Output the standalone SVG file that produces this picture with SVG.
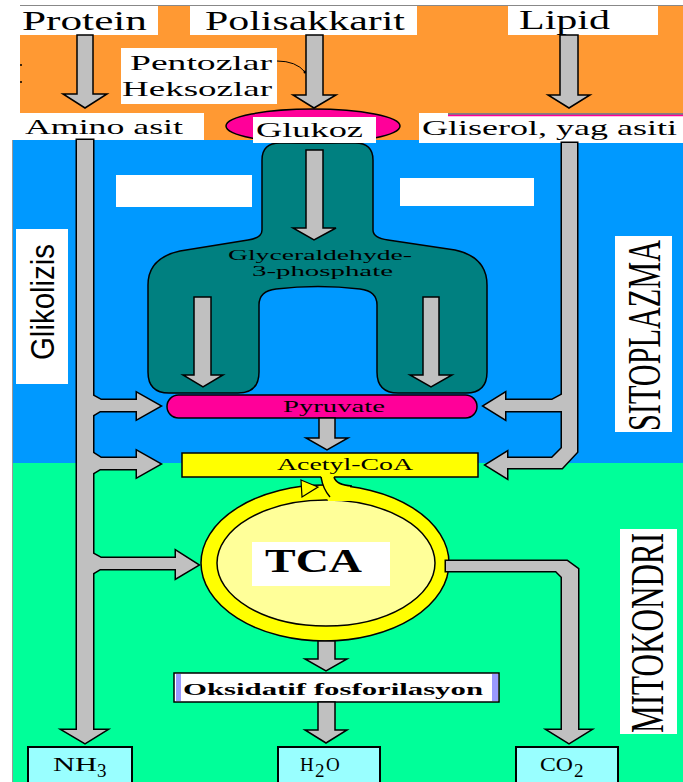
<svg xmlns="http://www.w3.org/2000/svg" xmlns:xlink="http://www.w3.org/1999/xlink" width="683" height="782" viewBox="0 0 683 782">
<style>
.lbl{font-family:"Liberation Serif","DejaVu Serif",serif;fill:#000}
.big{font-size:27px}
.mid{font-size:22px}
.sm{font-size:16px}
.wbox{fill:#fff}
.arr{fill:#C0C0C0;stroke:#000;stroke-width:1.5;stroke-linejoin:miter}
.netS{fill:#000;stroke:#000;stroke-width:3;stroke-linejoin:miter}
.netF{fill:#C0C0C0;stroke:none}
.out{fill:#99FFFF;stroke:#000;stroke-width:2}
.rot{font-family:"Liberation Serif",serif;fill:#000}
</style>
<defs>
<g id="leftNet">
<polygon points="77,140 93,140 93,730 106,730 85,743 63,730 77,730"/>
<polygon points="90,394 101,400 137,400 137,393 160,406 137,419 137,411 100,411 90,417"/>
<polygon points="90,451 101,458 137,458 137,451 160,464 137,477 137,469 100,469 90,475"/>
<polygon points="90,552 101,558 176,558 176,551 198,565 176,578 176,569 100,569 90,575"/>
</g>
<g id="rightNet">
<polygon points="562,143 577,143 577,452 562,468 507,468 507,478 486,465 507,452 507,458 552,458 562,448"/>
<polygon points="565,393 552,400 505,400 505,393 484,406 505,419 505,411 565,411"/>
</g>
<g id="co2Net">
<polygon points="446,561 567,561 578,569 578,730 590,730 569,743 548,730 562,730 562,577 556,571 446,571"/>
</g>
</defs>

<!-- backgrounds -->
<rect x="0" y="0" width="683" height="782" fill="#fff"/>
<rect x="20" y="6" width="663" height="134" fill="#FF9933"/>
<line x1="20" y1="5.5" x2="683" y2="5.5" stroke="#888" stroke-width="1"/>
<rect x="12" y="140" width="671" height="323" fill="#0099FF"/>
<rect x="12" y="463" width="671" height="319" fill="#00FF99"/>
<line x1="12.5" y1="140" x2="12.5" y2="782" stroke="#999" stroke-width="1"/>
<circle cx="21" cy="65" r="1" fill="#000"/>
<circle cx="21" cy="82" r="1" fill="#000"/>

<!-- top labels -->
<g id="protein">
<rect class="wbox" x="20" y="6" width="138" height="29"/>
<text class="lbl big" x="22" y="30" textLength="125" lengthAdjust="spacingAndGlyphs">Protein</text>
</g>
<g id="polisakkarit">
<rect class="wbox" x="190" y="6" width="227" height="29"/>
<text class="lbl big" x="205" y="30" textLength="200" lengthAdjust="spacingAndGlyphs">Polisakkarit</text>
</g>
<g id="lipid">
<rect class="wbox" x="508" y="6" width="150" height="29"/>
<text class="lbl big" x="519" y="29" textLength="91" lengthAdjust="spacingAndGlyphs">Lipid</text>
</g>
<g id="heksozlar">
<rect class="wbox" x="121" y="48" width="156" height="56"/>
<text class="lbl mid" x="130" y="70" textLength="142" lengthAdjust="spacingAndGlyphs">Pentozlar</text>
<text class="lbl mid" x="122" y="96" textLength="150" lengthAdjust="spacingAndGlyphs">Heksozlar</text>
<path d="M277 61 Q296 61 305 72" fill="none" stroke="#000" stroke-width="1"/>
<circle cx="305" cy="72" r="1.5" fill="#000"/>
</g>
<g id="aminoasit">
<rect class="wbox" x="20" y="113" width="184" height="27"/>
<text class="lbl mid" x="25" y="134" textLength="158" lengthAdjust="spacingAndGlyphs">Amino asit</text>
</g>
<g id="gliserol">
<rect class="wbox" x="419" y="113" width="264" height="30"/>
<line x1="448" y1="114" x2="683" y2="114" stroke="#000" stroke-width="1"/>
<line x1="448" y1="115.5" x2="683" y2="115.5" stroke="#FF0099" stroke-width="1.5"/>
<text class="lbl mid" x="422" y="135" textLength="255" lengthAdjust="spacingAndGlyphs">Gliserol, yag asiti</text>
</g>

<!-- empty white boxes -->
<rect class="wbox" x="116" y="175" width="136" height="32"/>
<rect class="wbox" x="400" y="178" width="134" height="28"/>

<!-- side labels -->
<g id="glikolizis">
<rect class="wbox" x="16" y="229" width="52" height="155"/>
<text font-family="Liberation Sans, sans-serif" font-size="34" fill="#000" transform="translate(54,360) rotate(-90)" textLength="116" lengthAdjust="spacingAndGlyphs">Glikolizis</text>
</g>
<g id="sitoplazma">
<rect class="wbox" x="615" y="236" width="57" height="196"/>
<text class="rot" font-size="46" transform="translate(660,431) rotate(-90)" textLength="191" lengthAdjust="spacingAndGlyphs">SITOPLAZMA</text>
</g>
<g id="mitokondri">
<rect class="wbox" x="620" y="529" width="57" height="205"/>
<text class="rot" font-size="46" transform="translate(663,733) rotate(-90)" textLength="200" lengthAdjust="spacingAndGlyphs">MITOKONDRI</text>
</g>

<!-- glycolysis teal -->
<g id="g3p">
<path d="M262 160 Q262 143 280 143 L355 143 Q373 143 373 160 L373 230 Q373 238 388 240 L455 250 Q487 257 487 285 L487 372 Q487 393 466 393 L398 393 Q377 393 377 372 L377 305 Q377 291 360 289 Q318 284 276 289 Q259 291 259 305 L259 372 Q259 393 238 393 L169 393 Q148 393 148 372 L148 285 Q148 258 180 251 L248 240 Q262 238 262 230 Z" fill="#008080" stroke="#000" stroke-width="1.5"/>
<text class="lbl" font-size="15" x="228" y="260" textLength="184" lengthAdjust="spacingAndGlyphs">Glyceraldehyde-</text>
<text class="lbl" font-size="15" x="252" y="276" textLength="141" lengthAdjust="spacingAndGlyphs">3-phosphate</text>
</g>

<g id="glukoz">
<ellipse cx="313" cy="126" rx="87" ry="17" fill="#FF0099" stroke="#000" stroke-width="1.5"/>
<rect class="wbox" x="253" y="117" width="123" height="26"/>
<text class="lbl mid" x="256" y="137" textLength="107" lengthAdjust="spacingAndGlyphs">Glukoz</text>
</g>

<g id="pyruvate">
<rect x="167" y="395" width="310" height="23" rx="11.5" fill="#FF0099" stroke="#000" stroke-width="1.5"/>
<text class="lbl sm" x="283" y="412" textLength="102" lengthAdjust="spacingAndGlyphs">Pyruvate</text>
</g>

<g id="acetylcoa">
<rect x="182" y="453" width="296" height="24" fill="#FFFF00" stroke="#000" stroke-width="1.5"/>
<text class="lbl sm" x="277" y="470" textLength="136" lengthAdjust="spacingAndGlyphs">Acetyl-CoA</text>
</g>

<g id="tca">
<ellipse cx="325" cy="563" rx="124" ry="78" fill="#FFFF00" stroke="#000" stroke-width="1.5"/>
<ellipse cx="326" cy="563" rx="109" ry="63" fill="#FFFF99" stroke="#000" stroke-width="1.5"/>
<path d="M321 476 L334 476 Q336 485 350 486 L350 501 L328 501 Q324 490 321 476 Z" fill="#FFFF00"/>
<path d="M321 477 Q323 489 330 497" fill="none" stroke="#000" stroke-width="1.5"/>
<path d="M334 477 Q336 485 352 486" fill="none" stroke="#000" stroke-width="1.5"/>
<polygon points="301,480 318,487 302,497" fill="#FFFF00" stroke="#000" stroke-width="1.2"/>
<rect class="wbox" x="252" y="542" width="138" height="44"/>
<text font-family="Liberation Serif, serif" font-weight="bold" font-size="34" x="265" y="572" textLength="97" lengthAdjust="spacingAndGlyphs" fill="#000">TCA</text>
</g>

<g id="oksidatif">
<rect x="174" y="673" width="325" height="29" fill="#fff" stroke="#000" stroke-width="1.5"/>
<rect x="176" y="674" width="5" height="27" fill="#9999FF"/>
<rect x="492" y="674" width="6" height="27" fill="#9999FF"/>
<text class="lbl sm" font-weight="bold" x="183" y="695" textLength="300" lengthAdjust="spacingAndGlyphs">Oksidatif fosforilasyon</text>
</g>

<g id="nh3">
<rect class="out" x="28" y="747" width="104" height="40"/>
<text class="lbl" font-size="19" x="53" y="771" textLength="44" lengthAdjust="spacingAndGlyphs">NH</text>
<text class="lbl" font-size="19" x="97" y="777">3</text>
</g>
<g id="h2o">
<rect class="out" x="278" y="747" width="102" height="40"/>
<text class="lbl" font-size="19" x="300" y="771">H</text>
<text class="lbl" font-size="19" x="315" y="777">2</text>
<text class="lbl" font-size="19" x="326" y="771">O</text>
</g>
<g id="co2">
<rect class="out" x="516" y="747" width="102" height="40"/>
<text class="lbl" font-size="19" x="540" y="771" textLength="33" lengthAdjust="spacingAndGlyphs">CO</text>
<text class="lbl" font-size="19" x="574" y="777">2</text>
</g>

<!-- connectors -->
<g id="connectors">
<polygon class="arr" points="77,35 93,35 93,94 107,94 85,108 63,94 77,94"/>
<polygon class="arr" points="306,35 323,35 323,95 336,95 314,108 293,95 306,95"/>
<polygon class="arr" points="560,35 578,35 578,95 590,95 569,108 548,95 560,95"/>
<polygon class="arr" points="306,150 323,150 323,228 336,228 314,240 293,228 306,228"/>
<polygon class="arr" points="194,297 211,297 211,375 223,375 203,387 183,375 194,375"/>
<polygon class="arr" points="423,297 439,297 439,375 452,375 431,387 410,375 423,375"/>
<polygon class="arr" points="319,418 335,418 335,438 348,438 327,450 306,438 319,438"/>
<polygon class="arr" points="318,641 335,641 335,659 347,659 326,671 305,659 318,659"/>
<polygon class="arr" points="318,702 335,702 335,730 347,730 326,743 305,730 318,730"/>
<use xlink:href="#leftNet" class="netS"/>
<use xlink:href="#leftNet" class="netF"/>
<use xlink:href="#rightNet" class="netS"/>
<use xlink:href="#rightNet" class="netF"/>
<use xlink:href="#co2Net" class="netS"/>
<use xlink:href="#co2Net" class="netF"/>
</g>
</svg>
